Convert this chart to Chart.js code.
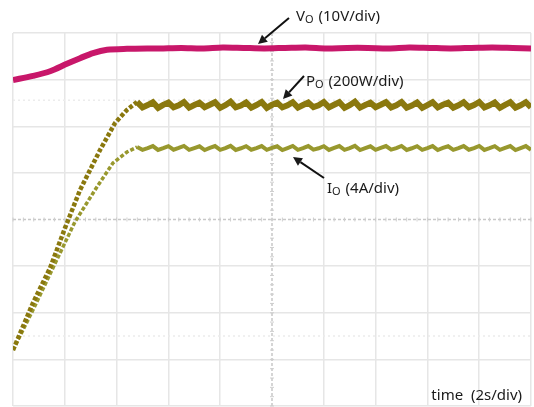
<!DOCTYPE html>
<html>
<head>
<meta charset="utf-8">
<script src="https://cdn.jsdelivr.net/npm/chart.js@4.4.1/dist/chart.umd.min.js"></script>
<style>
  body { margin: 0; background: #fff; }
  #wrap { width: 534px; height: 407px; }
</style>
</head>
<body>
<div id="wrap"><canvas id="scope" width="534" height="407"></canvas></div>
<script>
// time in seconds (2 s/div, 10 div)
var tVo = [0, 0.77, 1.43, 2.08, 2.59, 3.09, 3.63, 4.40, 5.68, 6.5, 7.3, 8.1, 8.9, 9.7, 10.5, 11.3, 12.1, 12.9, 13.7, 14.5, 15.3, 16.1, 16.9, 17.7, 18.5, 19.3, 20.0];
var vo  = [54.9, 55.8, 56.8, 58.4, 59.6, 60.7, 61.4, 61.6, 61.7, 61.8, 61.7, 61.9, 61.8, 61.7, 61.8, 61.9, 61.7, 61.8, 61.8, 61.7, 61.9, 61.8, 61.7, 61.8, 61.9, 61.8, 61.7];

// start-up ramp of output power / current
var tRamp = [0, 0.77, 1.43, 2.01, 2.59, 3.36, 3.94, 4.40, 4.79];
var poRamp = [0, 202, 352, 524, 687, 858, 974, 1030, 1064];
var tRampI = [0, 0.77, 1.43, 2.39, 3.24, 3.86, 4.40, 4.79];
var ioRamp = [0, 3.43, 6.52, 10.99, 13.99, 16.05, 16.99, 17.42];

// steady state with ripple
var tRipple = [5.0, 5.2, 5.4, 5.6, 5.8, 6.0, 6.2, 6.4, 6.6, 6.8, 7.0, 7.2, 7.4, 7.6, 7.8, 8.0, 8.2, 8.4, 8.6, 8.8,
  9.0, 9.2, 9.4, 9.6, 9.8, 10.0, 10.2, 10.4, 10.6, 10.8, 11.0, 11.2, 11.4, 11.6, 11.8, 12.0, 12.2, 12.4, 12.6, 12.8,
  13.0, 13.2, 13.4, 13.6, 13.8, 14.0, 14.2, 14.4, 14.6, 14.8, 15.0, 15.2, 15.4, 15.6, 15.8, 16.0, 16.2, 16.4, 16.6, 16.8,
  17.0, 17.2, 17.4, 17.6, 17.8, 18.0, 18.2, 18.4, 18.6, 18.8, 19.0, 19.2, 19.4, 19.6, 19.8, 20.0];
var poRipple = [1041, 1051, 1063, 1039, 1052, 1062, 1041, 1050, 1064, 1040, 1051, 1061, 1042, 1052, 1063, 1039, 1050, 1065,
  1041, 1049, 1062, 1040, 1051, 1064, 1039, 1052, 1061, 1041, 1050, 1063, 1040, 1051, 1062, 1042, 1050, 1064,
  1041, 1052, 1063, 1039, 1050, 1065, 1040, 1051, 1061, 1042, 1052, 1063, 1041, 1050, 1064, 1040, 1049, 1062,
  1039, 1051, 1063, 1041, 1052, 1061, 1040, 1050, 1063, 1042, 1051, 1064, 1041, 1050, 1062, 1039, 1052, 1063,
  1040, 1050, 1063, 1041];
var ioRipple = [17.18, 17.33, 17.50, 17.17, 17.32, 17.49, 17.19, 17.34, 17.51, 17.18, 17.33, 17.48, 17.16, 17.34, 17.50,
  17.18, 17.32, 17.52, 17.17, 17.31, 17.49, 17.19, 17.33, 17.50, 17.18, 17.34, 17.48, 17.16, 17.33, 17.51,
  17.18, 17.32, 17.50, 17.19, 17.31, 17.49, 17.17, 17.34, 17.50, 17.18, 17.33, 17.52, 17.16, 17.32, 17.48,
  17.18, 17.34, 17.50, 17.19, 17.32, 17.51, 17.17, 17.31, 17.49, 17.18, 17.33, 17.50, 17.16, 17.34, 17.48,
  17.18, 17.32, 17.50, 17.19, 17.33, 17.51, 17.17, 17.32, 17.49, 17.18, 17.34, 17.50, 17.16, 17.33, 17.50, 17.18];

// faint reference levels on the screen (V)
var refLevels = [0, 50.6];

function pts(t, v) {
  return t.map(function (x, i) { return {x: x, y: v[i]}; });
}

var centerLines = {
  id: 'centerLines',
  beforeDatasetsDraw: function (chart) {
    var c = chart.ctx, a = chart.chartArea;
    var xs = chart.scales.x, ys = chart.scales.y, vs = chart.scales.vo;
    c.save();
    // faint dotted reference levels
    c.strokeStyle = '#ececec';
    c.lineWidth = 1.5;
    c.setLineDash([2, 3]);
    refLevels.forEach(function (lv) {
      var py = vs.getPixelForValue(lv);
      c.beginPath(); c.moveTo(a.left, py); c.lineTo(a.right, py); c.stroke();
    });
    // dashed centre cross
    var cx = xs.getPixelForValue(10), cy = ys.getPixelForValue(4);
    c.strokeStyle = '#c8c8c8';
    c.setLineDash([3, 2]);
    c.beginPath(); c.moveTo(a.left, cy); c.lineTo(a.right, cy); c.stroke();
    c.beginPath(); c.moveTo(cx, a.top); c.lineTo(cx, a.bottom); c.stroke();
    // minor ticks on the cross
    c.setLineDash([]);
    c.lineWidth = 1;
    c.strokeStyle = '#cfcfcf';
    for (var i = 0; i <= 50; i++) {
      var px = xs.getPixelForValue(i * 0.4);
      c.beginPath(); c.moveTo(px, cy - 2); c.lineTo(px, cy + 2); c.stroke();
    }
    for (var j = 0; j <= 40; j++) {
      var py2 = ys.getPixelForValue(j * 0.2);
      c.beginPath(); c.moveTo(cx - 2, py2); c.lineTo(cx + 2, py2); c.stroke();
    }
    c.restore();
  }
};

function subLabel(c, x, y, main, sub, rest) {
  c.font = '15px "Noto Sans", sans-serif';
  c.fillText(main, x, y);
  x += c.measureText(main).width;
  c.font = '11px "Noto Sans", sans-serif';
  c.fillText(sub, x, y + 2);
  x += c.measureText(sub).width + 1;
  c.font = '15px "Noto Sans", sans-serif';
  c.fillText(rest, x, y);
}

function arrow(c, x1, y1, x2, y2) {
  var ang = Math.atan2(y2 - y1, x2 - x1), L = 9, W = 4.5;
  var bx = x2 - L * Math.cos(ang), by = y2 - L * Math.sin(ang);
  c.beginPath(); c.moveTo(x1, y1); c.lineTo(bx, by); c.stroke();
  c.beginPath();
  c.moveTo(x2, y2);
  c.lineTo(bx + W * Math.sin(ang), by - W * Math.cos(ang));
  c.lineTo(bx - W * Math.sin(ang), by + W * Math.cos(ang));
  c.closePath(); c.fill();
}

var labels = {
  id: 'labels',
  afterDraw: function (chart) {
    var c = chart.ctx;
    c.save();
    c.fillStyle = '#1a1a1a';
    c.strokeStyle = '#111';
    c.lineWidth = 2;
    c.textBaseline = 'alphabetic';
    subLabel(c, 296, 21, 'V', 'O', ' (10V/div)');
    subLabel(c, 306, 86, 'P', 'O', ' (200W/div)');
    subLabel(c, 327, 193, 'I', 'O', ' (4A/div)');
    arrow(c, 289, 18, 258, 44);
    arrow(c, 304, 76, 283, 99);
    arrow(c, 324, 178, 293, 157);
    c.font = '15px "Noto Sans", sans-serif';
    c.textAlign = 'right';
    c.fillText('time  (2s/div)', 522, 400);
    c.restore();
  }
};

var gridColor = '#e6e6e6';
var rampEnd = 4.8;

// beaded look on the fast start-up ramp, solid band afterwards
function rampDash(ctx) { return ctx.p1.parsed.x <= rampEnd ? [4, 2] : undefined; }

new Chart(document.getElementById('scope'), {
  type: 'line',
  data: {
    datasets: [{
      label: 'Vo',
      data: pts(tVo, vo),
      yAxisID: 'vo',
      borderColor: '#c8176a',
      borderWidth: 6,
      pointRadius: 0,
      tension: 0.3
    }, {
      label: 'Po',
      data: pts(tRamp.concat(tRipple), poRamp.concat(poRipple)),
      yAxisID: 'po',
      borderColor: '#8a780e',
      borderWidth: 6,
      pointRadius: 0,
      tension: 0,
      segment: {
        borderDash: rampDash,
        borderWidth: function (ctx) { return ctx.p1.parsed.x <= rampEnd ? 4.5 : undefined; }
      }
    }, {
      label: 'Io',
      data: pts(tRampI.concat(tRipple), ioRamp.concat(ioRipple)),
      yAxisID: 'io',
      borderColor: '#98982e',
      borderWidth: 4,
      pointRadius: 0,
      tension: 0,
      segment: {
        borderDash: rampDash,
        borderWidth: function (ctx) { return ctx.p1.parsed.x <= rampEnd ? 3.5 : undefined; }
      }
    }]
  },
  options: {
    responsive: false,
    animation: false,
    devicePixelRatio: 1,
    layout: { padding: { left: 13, top: 33, right: 3, bottom: 1 } },
    plugins: { legend: { display: false }, tooltip: { enabled: false } },
    scales: {
      x: {
        type: 'linear', min: 0, max: 20,
        ticks: { display: false, stepSize: 2 },
        grid: {
          color: function (ctx) { return ctx.tick && ctx.tick.value === 10 ? 'rgba(0,0,0,0)' : gridColor; },
          lineWidth: 1.5, drawTicks: false
        },
        border: { display: false }
      },
      y: {
        type: 'linear', min: 0, max: 8,
        ticks: { display: false, stepSize: 1 },
        grid: {
          color: function (ctx) { return ctx.tick && ctx.tick.value === 4 ? 'rgba(0,0,0,0)' : gridColor; },
          lineWidth: 1.5, drawTicks: false
        },
        border: { display: false }
      },
      vo: { type: 'linear', display: false, min: -15, max: 65 },
      po: { type: 'linear', display: false, min: -240, max: 1360 },
      io: { type: 'linear', display: false, min: -4.8, max: 27.2 }
    }
  },
  plugins: [centerLines, labels]
});
</script>
</body>
</html>
